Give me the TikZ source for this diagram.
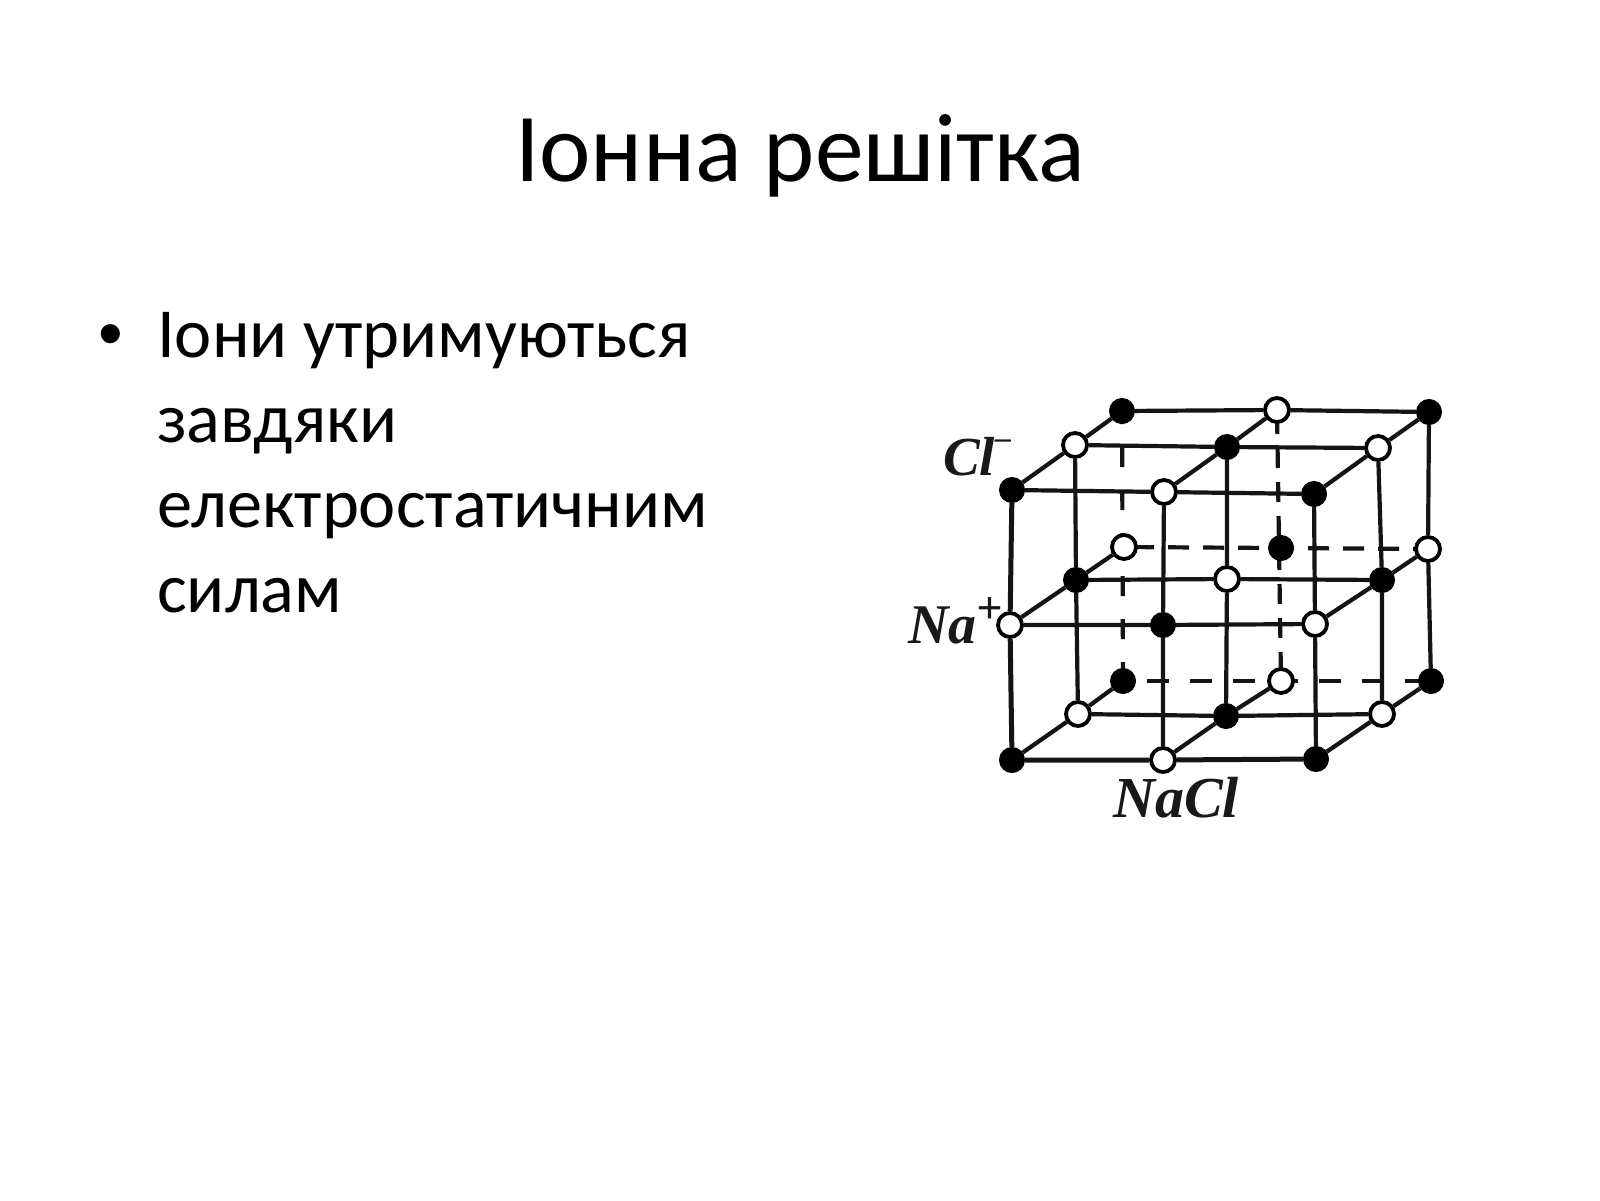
\documentclass[tikz,border=0pt]{standalone}
\usepackage{fontspec}
\setmainfont{Carlito}
\newfontfamily\labelfont{Liberation Serif}
\newfontfamily\bulletfont{Liberation Sans}
\pgfdeclarelayer{paper}
\pgfdeclarelayer{bonds}
\pgfsetlayers{paper,bonds,main}
\tikzset{
  x=1pt,y=-1pt,
  ionb/.style={circle,fill=black,draw=black,line width=1pt,minimum size=25pt,inner sep=0pt},
  ionw/.style={circle,fill=white,draw=black,line width=3.8pt,minimum size=24pt,inner sep=0pt},
  bond/.style={draw=black!92,line width=4.2pt},
  edgebond/.style={draw=black!92,line width=5pt},
  title/.style={font=\fontsize{97.4}{98}\selectfont,anchor=base,inner sep=0pt},
  body/.style={font=\fontsize{70.4}{71}\selectfont,anchor=base west,inner sep=0pt},
  ionlabel/.style={font=\labelfont\bfseries\itshape\fontsize{58}{58}\selectfont,anchor=base west,inner sep=0pt,text=black!90},
}
\begin{document}
\begin{tikzpicture}
\useasboundingbox (0,0) rectangle (1600,1200);
\begin{pgfonlayer}{paper}
\fill[white] (0,0) rectangle (1600,1200);
\end{pgfonlayer}
% text
\node[title] (ttl) at (800,181) {Іонна решітка};
\node[body,font=\bulletfont\fontsize{70.4}{71}\selectfont] (bul) at (98,357) {•};
\node[body] (l1) at (157,357) {Іони утримуються};
\node[body] (l2) at (157,442) {завдяки};
\node[body] (l3) at (157,527) {електростатичним};
\node[body] (l4) at (157,612) {силам};
% labels
\node[ionlabel,font=\labelfont\bfseries\itshape\fontsize{55}{55}\selectfont] (lcl) at (943,475) {Cl\raisebox{27pt}{\fontsize{32}{32}\selectfont –}};
\node[ionlabel,font=\labelfont\bfseries\itshape\fontsize{56}{56}\selectfont] (lna) at (908,643) {Na\raisebox{20pt}{\fontsize{46}{46}\selectfont +}};
\node[ionlabel] (lnacl) at (1113,817) {NaCl};
% front plane
\node[ionb] (f11) at (1012,490) {};
\node[ionw] (f12) at (1164,492) {};
\node[ionb] (f13) at (1314,494) {};
\node[ionw] (f21) at (1010,625) {};
\node[ionb] (f22) at (1163,625) {};
\node[ionw] (f23) at (1315,624) {};
\node[ionb] (f31) at (1012,760) {};
\node[ionw] (f32) at (1163,760) {};
\node[ionb] (f33) at (1316,759) {};
% middle plane
\node[ionw] (m11) at (1075,445) {};
\node[ionb] (m12) at (1227,447) {};
\node[ionw] (m13) at (1378,448) {};
\node[ionb] (m21) at (1076,580) {};
\node[ionw] (m22) at (1227,579) {};
\node[ionb] (m23) at (1382,580) {};
\node[ionw] (m31) at (1078,714) {};
\node[ionb] (m32) at (1226,716) {};
\node[ionw] (m33) at (1382,714) {};
% back plane
\node[ionb] (b11) at (1122,411) {};
\node[ionw] (b12) at (1277,410) {};
\node[ionb] (b13) at (1429,412) {};
\node[ionw] (b21) at (1124,547) {};
\node[ionb] (b22) at (1281,548) {};
\node[ionw] (b23) at (1428,549) {};
\node[ionb] (b31) at (1123,681) {};
\node[ionw] (b32) at (1281,681) {};
\node[ionb] (b33) at (1431,681) {};
\begin{pgfonlayer}{bonds}
% front plane
\draw[edgebond] (f11) -- (f21) (f21) -- (f31);
\draw[edgebond] (f31) -- (f32) (f32) -- (f33);
\draw[bond] (f11) -- (f12) (f12) -- (f13);
\draw[bond] (f21) -- (f22) (f22) -- (f23);
\draw[bond] (f12) -- (f22) (f22) -- (f32);
\draw[bond] (f13) -- (f23) (f23) -- (f33);
% middle plane
\draw[bond] (m11) -- (m12) (m12) -- (m13);
\draw[bond] (m21) -- (m22) (m22) -- (m23);
\draw[bond] (m31) -- (m32) (m32) -- (m33);
\draw[bond] (m11) -- (m21) (m21) -- (m31);
\draw[bond] (m12) -- (m22) (m22) -- (m32);
\draw[bond] (m13) -- (m23) (m23) -- (m33);
% back plane, visible part
\draw[bond] (b11) -- (b12) (b12) -- (b13);
\draw[bond] (b13) -- (b23) (b23) -- (b33);
% depth bonds
\draw[bond] (f11) -- (m11) (m11) -- (b11);
\draw[bond] (f12) -- (m12) (m12) -- (b12);
\draw[bond] (f13) -- (m13) (m13) -- (b13);
\draw[bond] (f21) -- (m21) (m21) -- (b21);
\draw[bond] (f23) -- (m23) (m23) -- (b23);
\draw[bond] (f31) -- (m31) (m31) -- (b31);
\draw[bond] (f32) -- (m32) (m32) -- (b32);
\draw[bond] (f33) -- (m33) (m33) -- (b33);
% hidden bonds
\draw[bond,dash pattern=on 20pt off 23pt,dash phase=7pt] (b11.center) -- (b31.center);
\draw[bond,dash pattern=on 20pt off 14pt,dash phase=30pt] (b12.center) -- (b32.center);
\draw[bond,dash pattern=on 21pt off 14pt,dash phase=26pt] (b21.center) -- (b23.center);
\draw[bond,dash pattern=on 22pt off 21pt,dash phase=19pt] (b31.center) -- (b33.center);
\end{pgfonlayer}
\end{tikzpicture}
\end{document}
